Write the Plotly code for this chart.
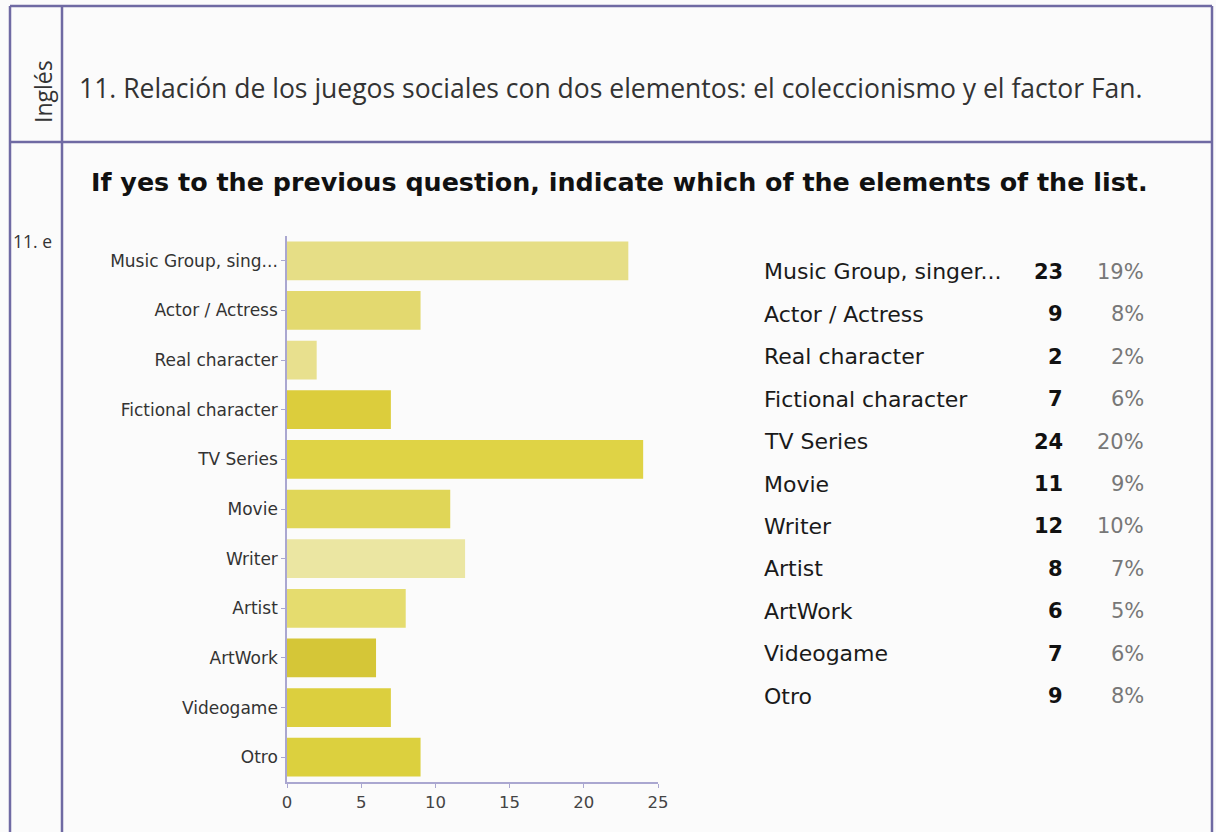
import plotly.graph_objects as go

# Survey data (question 11.e)
axis_labels = ["Music Group, sing...", "Actor / Actress", "Real character", "Fictional character",
               "TV Series", "Movie", "Writer", "Artist", "ArtWork", "Videogame", "Otro"]
table_labels = ["Music Group, singer...", "Actor / Actress", "Real character", "Fictional character",
                "TV Series", "Movie", "Writer", "Artist", "ArtWork", "Videogame", "Otro"]
counts = [23, 9, 2, 7, 24, 11, 12, 8, 6, 7, 9]
percents = ["19%", "8%", "2%", "6%", "20%", "9%", "10%", "7%", "5%", "6%", "8%"]
x_ticks = [0, 5, 10, 15, 20, 25]

bar_colors = ["#e6de86", "#e3d96f", "#e8e08e", "#dccd3c", "#dfd345", "#e0d657",
              "#ebe6a2", "#e5dc6e", "#d5c637", "#dccf3e", "#dcd03e"]

W, H = 1216, 832
frame_color = "#6f6aa3"
font_sans = "DejaVu Sans, sans-serif"
font_doc = "Open Sans, sans-serif"

fig = go.Figure()

fig.add_trace(go.Bar(
    x=counts,
    y=axis_labels,
    orientation="h",
    marker=dict(color=bar_colors, line=dict(width=0)),
    width=0.78,
    hoverinfo="x+y",
))

# pixel positions -> paper coords
def px(x):
    return x / W

def py(y):
    return 1 - y / H

# Frame of the document table
shapes = []
for x0, y0, x1, y1 in [(10, 6, 10, H), (62, 6, 62, H), (1212, 6, 1212, H),
                       (10, 6, 1212, 6), (10, 142, 1212, 142)]:
    shapes.append(dict(type="line", xref="paper", yref="paper",
                       x0=px(x0), y0=py(y0), x1=px(x1), y1=py(y1),
                       line=dict(color=frame_color, width=2.5)))

annotations = [
    dict(text="Inglés", x=px(43), y=py(92), textangle=-90, xanchor="center",
         font=dict(family=font_doc, size=23, color="#333333")),
    dict(text="11. Relación de los juegos sociales con dos elementos: el coleccionismo y el factor Fan.",
         x=px(77), y=py(88), xanchor="left",
         font=dict(family=font_doc, size=26.5, color="#333333")),
    dict(text="<b>If yes to the previous question, indicate which of the elements of the list.</b>",
         x=px(89), y=py(182), xanchor="left",
         font=dict(family=font_sans, size=25.4, color="#111111")),
    dict(text="11. e", x=px(11), y=py(241), xanchor="left",
         font=dict(family=font_doc, size=17.5, color="#333333")),
]

# Summary table to the right of the chart
row_top, row_step = 272, 42.4
for i, (lab, n, pct) in enumerate(zip(table_labels, counts, percents)):
    yy = py(row_top + i * row_step)
    annotations.append(dict(text=lab, x=px(762), y=yy, xanchor="left",
                            font=dict(family=font_sans, size=22, color="#1a1a1a")))
    annotations.append(dict(text=f"<b>{n}</b>", x=px(1065), y=yy, xanchor="right",
                            font=dict(family=font_sans, size=21, color="#111111")))
    annotations.append(dict(text=pct, x=px(1146), y=yy, xanchor="right",
                            font=dict(family=font_sans, size=21, color="#777777")))

for a in annotations:
    a.update(xref="paper", yref="paper", showarrow=False, yanchor="middle")

fig.update_layout(
    width=W, height=H,
    margin=dict(l=0, r=0, t=0, b=0, autoexpand=False),
    paper_bgcolor="#fbfbfb",
    plot_bgcolor="#fbfbfb",
    showlegend=False,
    shapes=shapes,
    annotations=annotations,
    xaxis=dict(
        domain=[px(287), px(658)],
        range=[0, 25],
        tickvals=x_ticks,
        showgrid=False, zeroline=False,
        showline=True, linecolor="#aaa7d0", linewidth=1.5,
        ticks="outside", ticklen=4, tickcolor="#aaa7d0",
        tickfont=dict(family=font_sans, size=16.5, color="#444444"),
        automargin=False,
        fixedrange=True,
    ),
    yaxis=dict(
        domain=[py(782), py(236)],
        autorange="reversed",
        showgrid=False, zeroline=False,
        showline=True, linecolor="#aaa7d0", linewidth=1.5,
        ticks="outside", ticklen=4, tickcolor="#aaa7d0",
        tickfont=dict(family=font_sans, size=17, color="#333333"),
        automargin=False,
        fixedrange=True,
    ),
)

# drop the default body margin so the 1216x832 figure fills the window exactly
fig.write_html("out.html", config={"displayModeBar": False},
               post_script="document.body.style.margin = '0';")
